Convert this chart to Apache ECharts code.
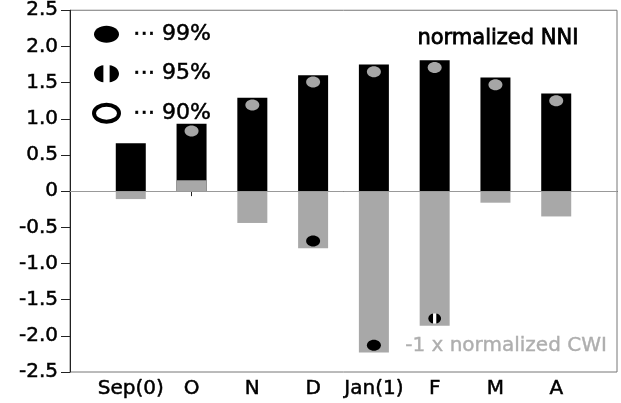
<!DOCTYPE html>
<html>
<head>
<meta charset="utf-8">
<script src="https://cdn.jsdelivr.net/npm/echarts@6/dist/echarts.min.js"></script>
<style>
html,body{margin:0;padding:0;background:#fff;}
#c{width:621px;height:403px;}
</style>
</head>
<body>
<div id="c"></div>
<script>
var categories = ['Sep(0)', 'O', 'N', 'D', 'Jan(1)', 'F', 'M', 'A'];
var nni = [0.66, 0.93, 1.29, 1.60, 1.75, 1.81, 1.57, 1.35];
var cwiNeg = [-0.11, 0.15, -0.44, -0.79, -2.23, -1.86, -0.16, -0.35];
var nniSig = [null, 0.83, 1.19, 1.51, 1.65, 1.71, 1.47, 1.25];
var cwiSig99 = [null, null, null, -0.69, -2.13, null, null, null];
var cwiSig95 = [null, null, null, null, null, -1.76, null, null];
var cwiSig90 = [null, null, null, null, null, null, null, null];
var yMin = -2.5, yMax = 2.5, yStep = 0.5;

function pad(a) { return [null].concat(a, [null]); }
var axisCats = [''].concat(categories, ['']);

var ELL = 'path://M10,0C15.5,0,20,4.5,20,10C20,15.5,15.5,20,10,20C4.5,20,0,15.5,0,10C0,4.5,4.5,0,10,0Z';
var HALF = 'path://M7.5,0.3C3.3,1,0,5,0,10C0,15,3.3,19,7.5,19.7ZM12.5,0.3C16.7,1,20,5,20,10C20,15,16.7,19,12.5,19.7Z';
var FONT = 'DejaVu Sans';
var thick = {textBorderColor: '#000', textBorderWidth: 0.5};

var chart = echarts.init(document.getElementById('c'), null, {renderer: 'canvas'});
chart.setOption({
  animation: false,
  backgroundColor: '#fff',
  textStyle: {fontFamily: FONT},
  grid: {left: 70, right: 4, top: 10, bottom: 31, show: true, borderColor: '#777', borderWidth: 1},
  legend: {
    orient: 'vertical', left: 92, top: 23, padding: 0, itemWidth: 25, itemHeight: 17, itemGap: 17,
    symbolKeepAspect: false, selectedMode: false,
    textStyle: {fontFamily: FONT, fontSize: 22, color: '#000', padding: [0, 0, 0, 9], textBorderColor: '#000', textBorderWidth: 0.5},
    formatter: function (n) { return '\u22ef ' + n; },
    data: [
      {name: '99%', icon: ELL, itemStyle: {color: '#000', opacity: 1}},
      {name: '95%', icon: HALF, itemStyle: {color: '#000', opacity: 1}},
      {name: '90%', icon: ELL, itemStyle: {color: '#fff', borderColor: '#000', borderWidth: 4, opacity: 1}}
    ]
  },
  xAxis: {
    type: 'category', data: axisCats, boundaryGap: false,
    axisLine: {lineStyle: {color: '#222', width: 1}},
    axisTick: {length: 5, lineStyle: {color: '#222'}, interval: function (i) { return i > 0 && i < axisCats.length - 1; }},
    axisLabel: Object.assign({color: '#000', fontSize: 20, fontFamily: FONT, margin: 7, interval: 0}, thick),
    splitLine: {show: false}
  },
  yAxis: {
    type: 'value', min: yMin, max: yMax, interval: yStep,
    axisLine: {show: true, lineStyle: {color: '#222', width: 1}},
    axisTick: {show: true, length: 9, lineStyle: {color: '#222'}},
    axisLabel: Object.assign({color: '#000', fontSize: 20, fontFamily: FONT, margin: 12,
      formatter: function (v) { return Math.abs(v) < 1e-9 ? '0' : v.toFixed(1); }}, thick),
    splitLine: {show: false}
  },
  graphic: [
    {type: 'text', left: 417, top: 28, style: {text: 'normalized NNI', fontFamily: FONT, fontSize: 21, fill: '#000', stroke: '#000', lineWidth: 0.8}},
    {type: 'text', left: 405, top: 336, style: {text: '-1 x normalized CWI', fontFamily: FONT, fontSize: 20, fill: '#aeaeae', stroke: '#aeaeae', lineWidth: 0.4}}
  ],
  series: [
    {name: 'zero', type: 'line', data: [], silent: true, z: 1,
      markLine: {silent: true, symbol: 'none', label: {show: false}, lineStyle: {color: '#999', width: 1, type: 'solid'},
        data: [{yAxis: 0}]}},
    {name: 'NNI', type: 'bar', data: pad(nni), barWidth: 30, itemStyle: {color: '#000'}, z: 2},
    {name: 'CWI', type: 'bar', data: pad(cwiNeg), barWidth: 30, barGap: '-100%', itemStyle: {color: '#a8a8a8'}, z: 3},
    {name: 'nniSig', type: 'scatter', data: pad(nniSig), symbol: ELL, symbolSize: [14, 11], itemStyle: {color: '#a6a6a6', opacity: 1}, z: 5},
    {name: '99%', type: 'scatter', data: pad(cwiSig99), symbol: ELL, symbolSize: [14, 11], itemStyle: {color: '#000', opacity: 1}, z: 5},
    {name: 'u95', type: 'scatter', data: pad(cwiSig95), symbol: ELL, symbolSize: [13, 10], itemStyle: {color: '#fff', opacity: 1}, z: 5},
    {name: '95%', type: 'scatter', data: pad(cwiSig95), symbol: HALF, symbolSize: [13, 10], itemStyle: {color: '#000', opacity: 1}, z: 6},
    {name: '90%', type: 'scatter', data: pad(cwiSig90), symbol: ELL, symbolSize: [14, 11], itemStyle: {color: '#fff', borderColor: '#000', borderWidth: 2, opacity: 1}, z: 5}
  ]
});
</script>
</body>
</html>
